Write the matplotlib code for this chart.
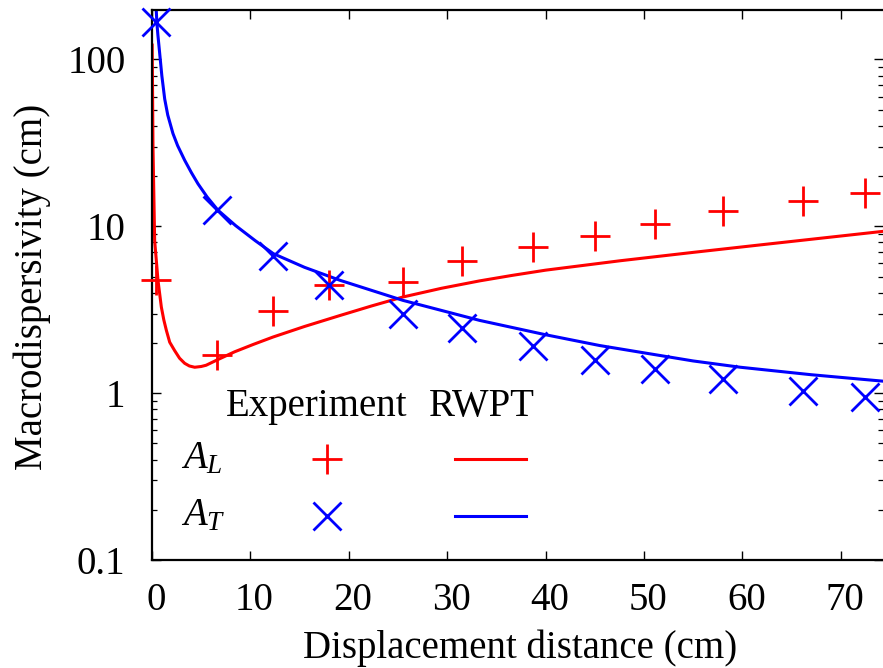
import matplotlib
matplotlib.use("Agg")
import matplotlib.pyplot as plt
from matplotlib.lines import Line2D
from matplotlib.ticker import FixedLocator, NullFormatter
import matplotlib.transforms as mtransforms

plt.rcParams['font.family'] = ['Liberation Serif', 'DejaVu Serif']
plt.rcParams['mathtext.fontset'] = 'custom'
plt.rcParams['mathtext.rm'] = 'Liberation Serif'
plt.rcParams['mathtext.it'] = 'Liberation Serif:italic'

# Experiment data
x_exp = [0.45, 6.6, 12.3, 18.0, 25.5, 31.5, 38.7, 45.0, 51.1, 58.0, 66.2, 72.5]
AL_exp = [4.8, 1.69, 3.10, 4.43, 4.62, 6.17, 7.51, 8.75, 10.3, 12.3, 14.2, 15.8]
AT_exp = [168, 12.6, 6.61, 4.43, 2.99, 2.45, 1.93, 1.59, 1.40, 1.22, 1.03, 0.946]

# RWPT curves
x_rwpt_L = [0.02, 0.1, 0.27, 0.61, 0.95, 1.2, 1.46, 1.8, 2.3, 2.8, 3.32, 3.8,
            4.34, 5.0, 5.5, 6.6, 8.4, 10.3, 12.3, 15.5, 19.1, 22.3, 25.5, 29.4,
            33.3, 36.6, 40.0, 47.6, 55.0, 62.0, 68.0, 74.3]
AL_rwpt = [122, 30, 8.2, 4.74, 3.28, 2.75, 2.38, 2.02, 1.80, 1.62, 1.51, 1.455,
           1.43, 1.445, 1.47, 1.58, 1.77, 1.96, 2.17, 2.51, 2.92, 3.33, 3.77,
           4.25, 4.71, 5.08, 5.46, 6.22, 6.98, 7.76, 8.49, 9.33]
x_rwpt_T = [0.43, 0.5, 0.6, 0.78, 1.0, 1.29, 1.6, 2.13, 2.6, 3.32, 4.0, 4.67,
            5.6, 6.7, 8.5, 10.5, 12.33, 15.5, 19.1, 25.5, 33.3, 40.0, 45.5,
            55.0, 59.8, 67.0, 74.3]
AT_rwpt = [198, 165, 140, 109, 80, 58, 46.5, 36, 30.5, 24.9, 21, 18,
           15, 12.5, 10.1, 8.2, 6.86, 5.68, 4.75, 3.6, 2.73, 2.24, 1.93,
           1.56, 1.43, 1.29, 1.18]

x_ticks = [0, 10, 20, 30, 40, 50, 60, 70]
y_ticks = [0.1, 1, 10, 100]
y_ticklabels = ["0.1", "1", "10", "100"]

W, H = 883, 668
fig = plt.figure(figsize=(W / 100, H / 100), dpi=100)
ax = fig.add_axes([152 / W, (H - 560) / H, (883 - 152) / W, 550 / H])

FS = 28
lw = 2.2
ax.plot(x_rwpt_L, AL_rwpt, color='#ff0000', lw=lw)
ax.plot(x_rwpt_T, AT_rwpt, color='#0000ff', lw=lw)
ax.plot(x_exp, AL_exp, linestyle='none', marker='+', ms=22, mew=2.0,
        color='#ff0000', clip_on=False, zorder=5)
ax.plot(x_exp, AT_exp, linestyle='none', marker='x', ms=20, mew=2.0,
        color='#0000ff', clip_on=False, zorder=5)

ax.set_yscale('log')
ax.set_xlim(0, 74.3)
ax.set_ylim(0.1, 198)

ax.set_xticks(x_ticks)
ax.set_xticklabels([str(t) for t in x_ticks])
ax.set_yticks(y_ticks)
ax.set_yticklabels(y_ticklabels)
minors = [m * 10.0 ** e for e in (-1, 0, 1) for m in range(2, 10)] + [200]
ax.yaxis.set_minor_locator(FixedLocator(minors))
ax.yaxis.set_minor_formatter(NullFormatter())

ax.tick_params(axis='both', which='major', direction='in', length=6.5, width=1.0,
               labelsize=FS, top=True, right=True)
ax.tick_params(axis='y', which='minor', direction='in', length=3.5, width=0.9,
               right=True)
ax.tick_params(axis='x', which='major', pad=16)
ax.tick_params(axis='y', which='major', pad=19)
for lab in ax.get_xticklabels():
    lab.set_transform(lab.get_transform() +
                      mtransforms.ScaledTranslation(4 / 100, 0, fig.dpi_scale_trans))

for s in ('left', 'bottom', 'top'):
    ax.spines[s].set_linewidth(1.6)
ax.spines['right'].set_visible(False)

fig.text(42 / W, 1 - 287 / H, "Macrodispersivity (cm)", rotation=90,
         rotation_mode='anchor', ha='center', va='baseline', fontsize=FS)
fig.text(520 / W, 1 - 658.3 / H, "Displacement distance (cm)",
         ha='center', va='baseline', fontsize=FS)

# Legend (gnuplot style)
def fx(px):
    return px / W

def fy(py):
    return 1 - py / H

fig.text(fx(226), fy(416), "Experiment", ha='left', va='baseline', fontsize=FS)
fig.text(fx(429), fy(416), "RWPT", ha='left', va='baseline', fontsize=FS)
fig.text(fx(181), fy(468), r"$A_L$", ha='left', va='baseline', fontsize=FS)
fig.text(fx(181), fy(525), r"$A_T$", ha='left', va='baseline', fontsize=FS)
fig.add_artist(Line2D([fx(326.7)], [fy(459.3)], marker='+', ms=22, mew=2.0,
                      color='#ff0000', linestyle='none'))
fig.add_artist(Line2D([fx(326.7)], [fy(516)], marker='x', ms=20, mew=2.0,
                      color='#0000ff', linestyle='none'))
fig.add_artist(Line2D([fx(455), fx(526)], [fy(459.3), fy(459.3)],
                      color='#ff0000', lw=lw))
fig.add_artist(Line2D([fx(455), fx(526)], [fy(516), fy(516)],
                      color='#0000ff', lw=lw))

fig.savefig("out.png", dpi=100)
